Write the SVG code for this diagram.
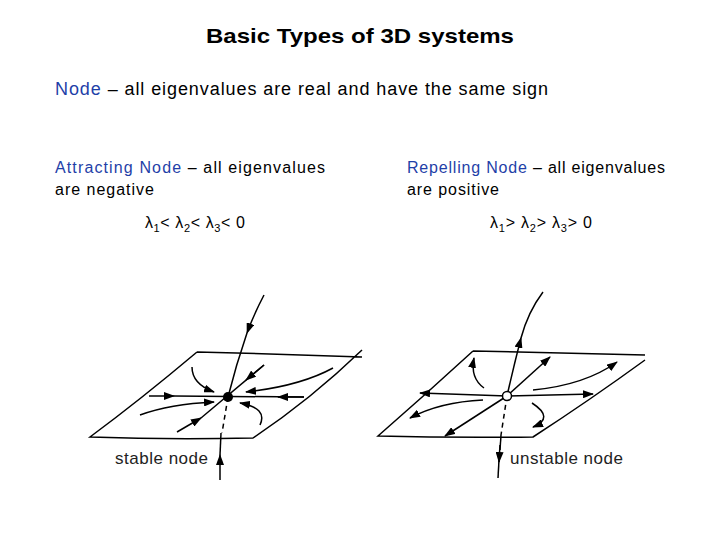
<svg xmlns="http://www.w3.org/2000/svg" width="720" height="540" viewBox="0 0 720 540">
<defs>
<marker id="ah" markerUnits="userSpaceOnUse" markerWidth="11" markerHeight="8" refX="10" refY="4" orient="auto"><path d="M0,0 L11,4 L0,8 Z" fill="#000"/></marker>
<style>
text{font-family:"Liberation Sans",Arial,sans-serif}
.l{fill:none;stroke:#000;stroke-width:1.5}
.a{fill:none;stroke:#000;stroke-width:1.5;marker-end:url(#ah)}
.d{fill:none;stroke:#000;stroke-width:1.5;stroke-dasharray:5,4}
</style>
</defs>
<rect width="720" height="540" fill="#fff"/>
<text x="206" y="43" font-size="21" font-weight="bold" textLength="308" lengthAdjust="spacingAndGlyphs">Basic Types of 3D systems</text>
<text x="55" y="95" font-size="18" textLength="493" lengthAdjust="spacing"><tspan fill="#1f3fa8">Node</tspan> – all eigenvalues are real and have the same sign</text>
<text x="55" y="173" font-size="16" textLength="270" lengthAdjust="spacing"><tspan fill="#1f3fa8">Attracting Node</tspan> – all eigenvalues</text>
<text x="55" y="195" font-size="16" textLength="99" lengthAdjust="spacing">are negative</text>
<text x="407" y="173" font-size="16" textLength="258" lengthAdjust="spacing"><tspan fill="#1f3fa8">Repelling Node</tspan> – all eigenvalues</text>
<text x="407" y="195" font-size="16" textLength="92" lengthAdjust="spacing">are positive</text>
<text x="145" y="228" font-size="16" textLength="100" lengthAdjust="spacing">λ<tspan font-size="11" dy="4">1</tspan><tspan dy="-4">&lt; λ</tspan><tspan font-size="11" dy="4">2</tspan><tspan dy="-4">&lt; λ</tspan><tspan font-size="11" dy="4">3</tspan><tspan dy="-4">&lt; 0</tspan></text>
<text x="490" y="228" font-size="16" textLength="102" lengthAdjust="spacing">λ<tspan font-size="11" dy="4">1</tspan><tspan dy="-4">&gt; λ</tspan><tspan font-size="11" dy="4">2</tspan><tspan dy="-4">&gt; λ</tspan><tspan font-size="11" dy="4">3</tspan><tspan dy="-4">&gt; 0</tspan></text>
<g id="stable">
<path class="l" d="M197,352 Q280,354 362,357 M197,352 Q140,400 90,437 Q170,440 253,438 Q310,400 362,350"/>
<g id="connectors-stable">
<path class="a" d="M264,295 Q254,314 247,333"/>
<path class="l" d="M247,333 Q236,365 228,397"/>
<path class="d" d="M228,397 L222,433"/>
<path class="a" d="M220,480 L220,455"/>
<path class="l" d="M220,455 L221,433"/>
<path class="a" d="M149,396 L174,396"/>
<path class="l" d="M174,396 L304,397"/>
<path class="a" d="M304,397 L278,397"/>
<path class="a" d="M177,432 L201,418"/>
<path class="l" d="M201,418 L264,365"/>
<path class="a" d="M264,365 L246,380"/>
<path class="a" d="M192,367 Q192,384 214,392"/>
<path class="a" d="M333,368 Q300,386 246,392"/>
<path class="a" d="M140,415 Q170,404 214,402"/>
<path class="a" d="M260,425 Q268,408 240,403"/>
</g>
<circle cx="228" cy="397" r="5" fill="#000"/>
<text x="115" y="464" font-size="17" fill="#222" textLength="93" lengthAdjust="spacing">stable node</text>
</g>
<g id="unstable">
<path class="l" d="M473,351 Q560,353 645,355 M473,351 Q425,395 378,436 Q455,438 533,437 Q590,400 645,360"/>
<g id="connectors-unstable">
<path class="l" d="M543,292 Q528,312 521,338"/>
<path class="a" d="M507,396 Q514,365 521,338"/>
<path class="d" d="M507,396 L501,435"/>
<path class="l" d="M501,435 L500,450"/>
<path class="a" d="M500,445 L499,462"/>
<path class="l" d="M499,460 L498,478"/>
<path class="a" d="M507,396 L420,393"/>
<path class="a" d="M507,396 L593,394"/>
<path class="a" d="M507,396 L445,436"/>
<path class="a" d="M507,396 L550,357"/>
<path class="a" d="M484,388 Q470,378 474,358"/>
<path class="a" d="M533,390 Q585,385 617,362"/>
<path class="a" d="M483,400 Q440,402 410,418"/>
<path class="a" d="M532,403 Q555,418 533,427"/>
</g>
<circle cx="507" cy="396" r="4.5" fill="#fff" stroke="#000" stroke-width="1.5"/>
<text x="510" y="464" font-size="17" fill="#222" textLength="113" lengthAdjust="spacing">unstable node</text>
</g>
</svg>
